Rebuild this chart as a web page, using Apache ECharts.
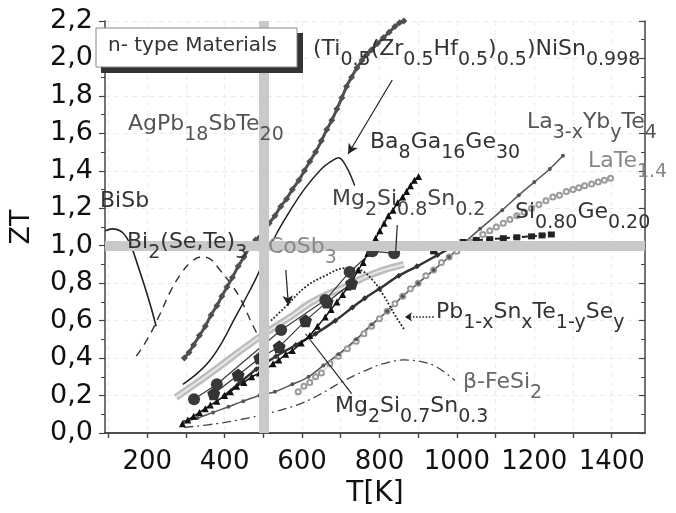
<!DOCTYPE html>
<html>
<head>
<meta charset="utf-8">
<title>ZT of n-type materials</title>
<script src="https://cdn.jsdelivr.net/npm/echarts@6/dist/echarts.min.js"></script>
<style>
html, body { margin: 0; padding: 0; background: #fff; }
#chart { width: 676px; height: 513px; }
</style>
</head>
<body>
<div id="chart"></div>
<script>
// axis ticks
const xTicks = [100, 200, 300, 400, 500, 600, 700, 800, 900, 1000, 1100, 1200, 1300, 1400];
const xLabels = [200, 400, 600, 800, 1000, 1200, 1400];

// curves, [T in K, ZT]
const biSb = [[92,1.08],[110,1.09],[130,1.08],[145,1.05],[160,0.99],[175,0.90],[194,0.78],[210,0.67],[223,0.57]];
const bi2SeTe3 = [[172,0.41],[203,0.51],[232,0.63],[261,0.76],[287,0.85],[312,0.91],[338,0.94],[362,0.93],[388,0.87],[415,0.80],[440,0.72],[474,0.57],[508,0.44]];
const agPbSbTe = [[296,0.40],[308,0.43],[320,0.47],[335,0.52],[350,0.57],[365,0.63],[380,0.68],[393,0.73],[406,0.78],[420,0.83],[435,0.89],[450,0.94],[464,0.99],[480,1.03],[499,1.07],[515,1.12],[530,1.16],[545,1.21],[560,1.25],[575,1.30],[592,1.35],[606,1.40],[620,1.45],[635,1.50],[650,1.56],[664,1.62],[677,1.67],[690,1.73],[703,1.79],[715,1.85],[728,1.90],[742,1.95],[755,1.99],[767,2.02],[779,2.045],[795,2.08],[810,2.11],[825,2.14],[840,2.17],[852,2.19],[863,2.20]];
const tiNiSn = [[292,0.26],[330,0.32],[363,0.39],[395,0.49],[423,0.60],[452,0.71],[482,0.83],[510,0.96],[533,1.06],[570,1.19],[609,1.31],[650,1.41],[675,1.45],[694,1.47],[715,1.42],[736,1.32]];
const coSb3 = [[274,0.19],[330,0.27],[390,0.36],[448,0.45],[510,0.54],[570,0.62],[618,0.69],[665,0.74],[711,0.78],[760,0.83],[810,0.87],[863,0.90]];
const pbDotted = [[520,0.60],[560,0.68],[609,0.78],[660,0.84],[711,0.88],[750,0.87],[785,0.81],[812,0.73],[840,0.63],[865,0.55]];
const mgSi08 = [[321,0.18],[380,0.26],[546,0.55],[660,0.71],[723,0.86],[782,0.97],[838,0.96]];
const mgSi07 = [[372,0.21],[435,0.31],[491,0.40],[541,0.46],[609,0.60],[665,0.70],[728,0.80]];
const baGaGe = [[291,0.05],[305,0.07],[320,0.09],[335,0.11],[350,0.13],[363,0.15],[380,0.17],[400,0.20],[415,0.22],[431,0.25],[450,0.27],[470,0.30],[490,0.32],[507,0.34],[525,0.37],[540,0.39],[558,0.42],[575,0.44],[598,0.48],[620,0.52],[640,0.57],[660,0.62],[675,0.66],[690,0.70],[705,0.74],[719,0.78],[732,0.82],[745,0.87],[758,0.91],[770,0.96],[780,1.00],[790,1.04],[801,1.08],[812,1.12],[823,1.16],[835,1.19],[847,1.23],[860,1.26],[870,1.29],[880,1.32],[890,1.35],[901,1.37]];
const laYbTe = [[296,0.06],[330,0.08],[370,0.11],[410,0.14],[448,0.17],[490,0.20],[530,0.22],[575,0.26],[617,0.30],[655,0.36],[694,0.42],[740,0.50],[780,0.58],[820,0.65],[860,0.73],[900,0.80],[940,0.87],[980,0.94],[1016,1.01],[1060,1.09],[1117,1.19],[1160,1.27],[1200,1.34],[1240,1.41],[1274,1.48]];
const laTe = [[590,0.22],[605,0.25],[620,0.27],[635,0.30],[650,0.32],[672,0.37],[694,0.41],[717,0.45],[740,0.49],[760,0.53],[780,0.57],[800,0.61],[820,0.65],[840,0.69],[860,0.73],[880,0.77],[900,0.80],[920,0.84],[940,0.87],[960,0.91],[980,0.94],[1000,0.97],[1020,1.00],[1035,1.02],[1049,1.03],[1067,1.06],[1085,1.08],[1102,1.10],[1120,1.12],[1137,1.14],[1155,1.16],[1174,1.18],[1193,1.20],[1212,1.22],[1230,1.24],[1248,1.26],[1265,1.27],[1283,1.29],[1300,1.30],[1315,1.31],[1330,1.32],[1348,1.33],[1365,1.34],[1381,1.35],[1397,1.36]];
const pbSnTe = [[400,0.20],[440,0.27],[482,0.34],[533,0.41],[584,0.47],[635,0.53],[686,0.60],[730,0.67],[762,0.72],[800,0.77],[850,0.84],[897,0.89],[950,0.95],[985,0.99],[1016,1.02]];
const siGe = [[940,0.97],[980,1.00],[1016,1.02],[1050,1.03],[1085,1.035],[1120,1.04],[1155,1.045],[1193,1.05],[1220,1.055],[1244,1.06]];
const feSi2 = [[296,0.03],[380,0.05],[460,0.08],[540,0.12],[600,0.16],[650,0.21],[700,0.27],[760,0.33],[810,0.37],[863,0.39],[910,0.38],[950,0.35],[995,0.28]];

// reference bands and pointer lines
const bandT = 500;
const bandZT = 1.0;
const pointers = [
    { from: [833, 1.885], to: [719, 1.49], arrow: true, dotted: false },
    { from: [558, 0.87], to: [565, 0.68], arrow: true, dotted: false },
    { from: [846, 1.11], to: [842, 0.97], arrow: false, dotted: false },
    { from: [609, 0.53], to: [728, 0.21], arrow: false, dotted: false },
    { from: [940, 0.62], to: [866, 0.62], arrow: true, dotted: true }
];

const FONT = "DejaVu Sans";

function curve(name, data, opt) {
    return Object.assign({
        name: name,
        type: "line",
        data: data,
        symbol: "none",
        showAllSymbol: true,
        silent: true,
        animation: false,
        z: 3
    }, opt);
}

// rich text annotation with subscripts, parts: [text, isSub]
function note(x, y, parts, color) {
    const text = parts.map(p => (p[1] ? "{s|" : "{m|") + p[0] + "}").join("");
    return {
        type: "text",
        x: x,
        y: y,
        z: 60,
        silent: true,
        style: {
            text: text,
            fill: color,
            align: "left",
            verticalAlign: "top",
            rich: {
                m: { fontSize: 22, fontFamily: FONT, fill: color, lineHeight: 23, verticalAlign: "top" },
                s: { fontSize: 19, fontFamily: FONT, fill: color, lineHeight: 31, verticalAlign: "bottom" }
            }
        }
    };
}

const chart = echarts.init(document.getElementById("chart"));

const pointerLines = pointers.map(p => [
    { coord: p.from, symbol: "none" },
    { coord: p.to, symbol: p.arrow ? "arrow" : "none", symbolSize: p.dotted ? [7, 7] : [8, 10],
      lineStyle: { type: p.dotted ? "dotted" : "solid", width: p.dotted ? 1.6 : 1.2, color: "#222" } }
]);

const option = {
    backgroundColor: "#fff",
    animation: false,
    grid: { left: 96, right: 31, top: 21, bottom: 80 },
    xAxis: [
        {
            type: "value",
            min: 91,
            max: 1486,
            name: "T[K]",
            nameLocation: "middle",
            nameGap: 46,
            nameTextStyle: { fontSize: 28, fontFamily: FONT, color: "#111" },
            axisLine: { lineStyle: { color: "#444", width: 1.5 } },
            axisTick: { customValues: xTicks, length: 5, lineStyle: { color: "#444", width: 1.2 } },
            axisLabel: { customValues: xLabels, fontSize: 26, fontFamily: FONT, color: "#111", margin: 16,
                formatter: v => String(v) },
            splitLine: { show: true, lineStyle: { color: "#ececec", type: [5, 4], width: 1 } }
        },
        {
            type: "value",
            position: "top",
            min: 91,
            max: 1486,
            axisLine: { lineStyle: { color: "#444", width: 1.5 } },
            axisTick: { customValues: xTicks, inside: true, length: 5, lineStyle: { color: "#444", width: 1.2 } },
            axisLabel: { show: false },
            splitLine: { show: false }
        }
    ],
    yAxis: [
        {
            type: "value",
            min: 0,
            max: 2.2,
            interval: 0.2,
            name: "ZT",
            nameLocation: "middle",
            nameGap: 70,
            nameTextStyle: { fontSize: 27, fontFamily: FONT, color: "#111" },
            axisLine: { show: true, lineStyle: { color: "#444", width: 1.5 } },
            axisTick: { show: true, length: 6, lineStyle: { color: "#444", width: 1.2 } },
            minorTick: { show: true, splitNumber: 2, length: 4, lineStyle: { color: "#444", width: 1 } },
            axisLabel: {
                fontSize: 27, fontFamily: FONT, color: "#111", margin: 12,
                formatter: v => v.toFixed(1).replace(".", ",")
            },
            splitLine: { show: true, lineStyle: { color: "#ececec", type: [5, 4], width: 1 } }
        },
        {
            type: "value",
            position: "right",
            min: 0,
            max: 2.2,
            interval: 0.2,
            axisLine: { show: true, lineStyle: { color: "#444", width: 1.5 } },
            axisTick: { show: true, inside: true, length: 6, lineStyle: { color: "#444", width: 1.2 } },
            minorTick: { show: true, splitNumber: 2, length: 4, lineStyle: { color: "#444", width: 1 } },
            axisLabel: { show: false },
            splitLine: { show: false }
        }
    ],
    series: [
        {
            name: "bands",
            type: "line",
            data: [],
            z: 1,
            silent: true,
            markLine: {
                silent: true,
                animation: false,
                symbol: "none",
                label: { show: false },
                lineStyle: { color: "#c9c9c9", width: 10, type: "solid", opacity: 1 },
                data: [{ xAxis: bandT }, { yAxis: bandZT }]
            }
        },
        curve("CoSb3", coSb3, { smooth: 0.3, lineStyle: { color: "#bdbdbd", width: 7 } }),
        curve("CoSb3 inner", coSb3, { smooth: 0.3, lineStyle: { color: "#e8e8e8", width: 2 }, z: 3 }),
        curve("BiSb", biSb, { smooth: 0.4, lineStyle: { color: "#222", width: 1.6 } }),
        curve("Bi2(Se,Te)3", bi2SeTe3, { smooth: 0.4, lineStyle: { color: "#333", width: 1.4, type: [8, 6] } }),
        curve("AgPb18SbTe20", agPbSbTe, { smooth: 0.3, symbol: "diamond", symbolSize: 7,
            itemStyle: { color: "#505050" }, lineStyle: { color: "#505050", width: 3 } }),
        curve("(Ti0.5(Zr0.5Hf0.5)0.5)NiSn0.998", tiNiSn, { smooth: 0.4, lineStyle: { color: "#222", width: 1.5 } }),
        curve("Pb1-xSnxTe1-ySey dotted", pbDotted, { smooth: 0.4, lineStyle: { color: "#222", width: 1.8, type: "dotted" } }),
        curve("LaTe1.4", laTe, { smooth: 0.3, symbol: "emptyCircle", symbolSize: 5,
            itemStyle: { color: "#9a9a9a", borderColor: "#9a9a9a", borderWidth: 1.1 }, lineStyle: { color: "#c8c8c8", width: 1.2 } }),
        curve("La3-xYbyTe4", laYbTe, { smooth: 0.3, symbol: "circle", symbolSize: 4,
            itemStyle: { color: "#555" }, lineStyle: { color: "#555", width: 1.5 } }),
        curve("Pb1-xSnxTe1-ySey", pbSnTe, { smooth: 0.3, symbol: "diamond", symbolSize: 6,
            itemStyle: { color: "#333" }, lineStyle: { color: "#333", width: 2.5 } }),
        curve("Si0.80Ge0.20", siGe, { symbol: "rect", symbolSize: [7, 6],
            itemStyle: { color: "#222" }, lineStyle: { color: "#222", width: 2, type: [6, 3] } }),
        curve("beta-FeSi2", feSi2, { smooth: 0.4, lineStyle: { color: "#444", width: 1.3, type: [9, 4, 2, 4] } }),
        curve("Ba8Ga16Ge30", baGaGe, { smooth: 0.2, symbol: "triangle", symbolSize: 7,
            itemStyle: { color: "#111" }, lineStyle: { color: "#111", width: 1.5 } }),
        curve("Mg2Si0.7Sn0.3", mgSi07, { symbol: "path://M0,-10L9.5,-3.1L5.9,8.1L-5.9,8.1L-9.5,-3.1Z", symbolSize: 13,
            itemStyle: { color: "#333" }, lineStyle: { color: "#333", width: 1.2 } }),
        curve("Mg2Si0.8Sn0.2", mgSi08, { symbol: "circle", symbolSize: 12,
            itemStyle: { color: "#3a3a3a" }, lineStyle: { color: "#3a3a3a", width: 1.2 } }),
        {
            name: "pointers",
            type: "line",
            data: [],
            z: 5,
            silent: true,
            markLine: {
                silent: true,
                animation: false,
                symbol: "none",
                label: { show: false },
                lineStyle: { color: "#222", width: 1.2, type: "solid" },
                data: pointerLines
            }
        }
    ],
    graphic: [
        // legend box with shadow
        { type: "rect", z: 50, silent: true, shape: { x: 101, y: 33, width: 202, height: 40 }, style: { fill: "#333" } },
        { type: "rect", z: 51, silent: true, shape: { x: 96, y: 28, width: 201, height: 39 }, style: { fill: "#fff", stroke: "#888", lineWidth: 1 } },
        { type: "text", z: 52, silent: true, x: 108, y: 36,
          style: { text: "n- type Materials", fill: "#333", fontSize: 20, fontFamily: FONT } },

        note(313, 38.5, [["(Ti"], ["0.5", 1], ["(Zr"], ["0.5", 1], ["Hf"], ["0.5", 1], [")"], ["0.5", 1], [")NiSn"], ["0.998", 1]], "#333"),
        note(128, 113.5, [["AgPb"], ["18", 1], ["SbTe"], ["20", 1]], "#555"),
        note(100, 190.5, [["BiSb"]], "#333"),
        note(127, 231.5, [["Bi"], ["2", 1], ["(Se,Te)"], ["3", 1]], "#333"),
        note(268, 236.5, [["CoSb"], ["3", 1]], "#888"),
        note(370, 131.5, [["Ba"], ["8", 1], ["Ga"], ["16", 1], ["Ge"], ["30", 1]], "#333"),
        note(332, 188.5, [["Mg"], ["2", 1], ["Si"], ["0.8", 1], ["Sn"], ["0.2", 1]], "#444"),
        note(527, 111.5, [["La"], ["3-x", 1], ["Yb"], ["y", 1], ["Te"], ["4", 1]], "#555"),
        note(588, 150.5, [["LaTe"], ["1.4", 1]], "#888"),
        note(515, 201.5, [["Si"], ["0.80", 1], ["Ge"], ["0.20", 1]], "#333"),
        note(436, 301.5, [["Pb"], ["1-x", 1], ["Sn"], ["x", 1], ["Te"], ["1-y", 1], ["Se"], ["y", 1]], "#333"),
        note(463, 371.5, [["β-FeSi"], ["2", 1]], "#666"),
        note(335, 395.5, [["Mg"], ["2", 1], ["Si"], ["0.7", 1], ["Sn"], ["0.3", 1]], "#333")
    ]
};

option && chart.setOption(option);
</script>
</body>
</html>
